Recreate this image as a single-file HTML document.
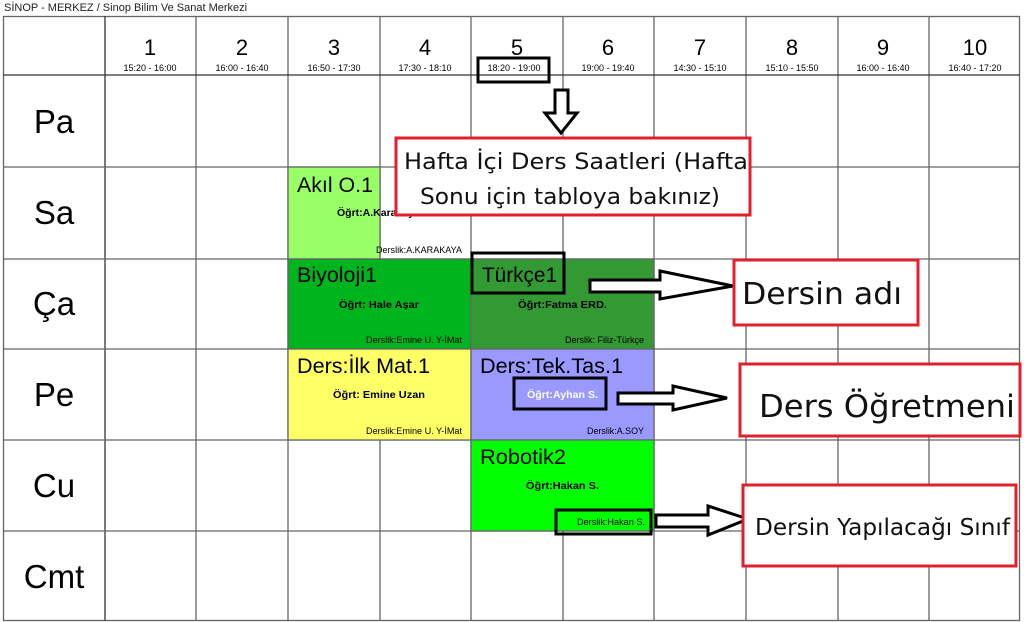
<!DOCTYPE html>
<html><head><meta charset="utf-8"><style>
html,body{margin:0;padding:0;background:#fff;}
svg{display:block;font-family:"Liberation Sans",Arial,sans-serif;}
.c{font-family:"DejaVu Sans","Liberation Sans",sans-serif;}
</style></head><body>
<svg width="1024" height="622" viewBox="0 0 1024 622" xmlns="http://www.w3.org/2000/svg">
<rect width="1024" height="622" fill="#fff"/>
<text x="4" y="11" font-size="11" fill="#222">SİNOP - MERKEZ / Sinop Bilim Ve Sanat Merkezi</text>
<!-- grid -->
<g stroke="#666" stroke-width="1.3" fill="none">
<rect x="3.5" y="16.5" width="1016" height="604"/>
<line x1="105" y1="16" x2="105" y2="621" stroke="#333"/>
<line x1="196" y1="16" x2="196" y2="621"/>
<line x1="288" y1="16" x2="288" y2="621"/>
<line x1="380" y1="16" x2="380" y2="621"/>
<line x1="471" y1="16" x2="471" y2="621"/>
<line x1="563" y1="16" x2="563" y2="259"/>
<line x1="563" y1="531" x2="563" y2="621"/>
<line x1="654" y1="16" x2="654" y2="621"/>
<line x1="746" y1="16" x2="746" y2="621"/>
<line x1="838" y1="16" x2="838" y2="621"/>
<line x1="929" y1="16" x2="929" y2="621"/>
<line x1="3" y1="75" x2="1020" y2="75" stroke="#333"/>
<line x1="3" y1="167" x2="1020" y2="167"/>
<line x1="3" y1="259" x2="1020" y2="259"/>
<line x1="3" y1="349" x2="1020" y2="349"/>
<line x1="3" y1="440" x2="1020" y2="440"/>
<line x1="3" y1="531" x2="1020" y2="531"/>
</g>
<!-- colored cells -->
<g stroke="#666" stroke-width="1.3">
<rect x="288" y="167" width="92" height="92" fill="#99ff66"/>
<rect x="288" y="259" width="183" height="90" fill="#00b41e"/>
<rect x="471" y="259" width="183" height="90" fill="#339933"/>
<rect x="288" y="349" width="183" height="91" fill="#ffff66"/>
<rect x="471" y="349" width="183" height="91" fill="#9999ff"/>
<rect x="471" y="440" width="183" height="91" fill="#00ff00"/>
</g>
<!-- header -->
<g font-size="22" text-anchor="middle" fill="#000">
<text x="150" y="55">1</text><text x="242" y="55">2</text><text x="334" y="55">3</text><text x="425" y="55">4</text><text x="517" y="55">5</text><text x="608" y="55">6</text><text x="700" y="55">7</text><text x="792" y="55">8</text><text x="883" y="55">9</text><text x="975" y="55">10</text>
</g>
<g font-size="9" text-anchor="middle" fill="#000">
<text x="150" y="71">15:20 - 16:00</text><text x="242" y="71">16:00 - 16:40</text><text x="334" y="71">16:50 - 17:30</text><text x="425" y="71">17:30 - 18:10</text><text x="514" y="71">18:20 - 19:00</text><text x="608" y="71">19:00 - 19:40</text><text x="700" y="71">14:30 - 15:10</text><text x="792" y="71">15:10 - 15:50</text><text x="883" y="71">16:00 - 16:40</text><text x="975" y="71">16:40 - 17:20</text>
</g>
<g font-size="33" text-anchor="middle" fill="#000">
<text x="54" y="133">Pa</text><text x="54" y="224">Sa</text><text x="54" y="315">Ça</text><text x="54" y="406">Pe</text><text x="54" y="497">Cu</text><text x="54" y="588">Cmt</text>
</g>
<!-- cell text -->
<g font-size="21" fill="#000" lengthAdjust="spacingAndGlyphs">
<text x="297" y="192" textLength="76" lengthAdjust="spacingAndGlyphs">Akıl O.1</text>
<text x="297" y="282" textLength="80" lengthAdjust="spacingAndGlyphs">Biyoloji1</text>
<text x="482" y="282" textLength="75" lengthAdjust="spacingAndGlyphs">Türkçe1</text>
<text x="297" y="373" textLength="133" lengthAdjust="spacingAndGlyphs">Ders:İlk Mat.1</text>
<text x="480" y="373" textLength="143" lengthAdjust="spacingAndGlyphs">Ders:Tek.Tas.1</text>
<text x="480" y="464" textLength="86" lengthAdjust="spacingAndGlyphs">Robotik2</text>
</g>
<g font-size="10.5" font-weight="bold" fill="#000">
<text x="337" y="216">Öğrt:A.Karakaya</text>
<text x="339" y="308" textLength="80" lengthAdjust="spacingAndGlyphs">Öğrt: Hale Aşar</text>
<text x="518" y="308" textLength="89" lengthAdjust="spacingAndGlyphs">Öğrt:Fatma ERD.</text>
<text x="333" y="398" textLength="92" lengthAdjust="spacingAndGlyphs">Öğrt: Emine Uzan</text>
<text x="527" y="398" textLength="71" lengthAdjust="spacingAndGlyphs" fill="#fff">Öğrt:Ayhan S.</text>
<text x="526" y="489" textLength="73" lengthAdjust="spacingAndGlyphs">Öğrt:Hakan S.</text>
</g>
<g font-size="9" fill="#000">
<text x="376" y="253" textLength="86" lengthAdjust="spacingAndGlyphs">Derslik:A.KARAKAYA</text>
<text x="366" y="343" textLength="96" lengthAdjust="spacingAndGlyphs">Derslik:Emine U. Y-İMat</text>
<text x="565" y="343" textLength="79" lengthAdjust="spacingAndGlyphs">Derslik: Filiz-Türkçe</text>
<text x="366" y="434" textLength="96" lengthAdjust="spacingAndGlyphs">Derslik:Emine U. Y-İMat</text>
<text x="587" y="434" textLength="57" lengthAdjust="spacingAndGlyphs">Derslik:A.SOY</text>
<text x="577" y="525" textLength="68" lengthAdjust="spacingAndGlyphs">Derslik:Hakan S.</text>
</g>
<!-- black highlight boxes -->
<g stroke="#000" stroke-width="3" fill="none">
<rect x="478" y="58" width="71" height="24"/>
<rect x="472" y="253" width="92" height="40"/>
<rect x="514" y="378" width="92" height="31"/>
<rect x="556" y="510" width="95" height="24"/>
</g>
<!-- arrows -->
<g stroke="#000" stroke-width="3" fill="#fff" stroke-linejoin="miter">
<polygon points="555,90 568,90 568,113 577,113 561,133 545,113 555,113"/>
<polygon points="590,280 660,280 660,271 733,286 660,299 660,292 590,292"/>
<polygon points="618,393 673,393 673,386 727,398 673,410 673,404 618,404"/>
<polygon points="656,515 708,515 708,506 748,519 708,535 708,527 656,527"/>
</g>
<!-- red boxes -->
<g stroke="#e0202a" stroke-width="3" fill="#fff">
<rect x="396" y="138" width="354" height="77"/>
<rect x="734" y="260" width="184" height="65"/>
<rect x="740" y="364" width="280" height="72"/>
<rect x="743" y="485" width="273" height="81"/>
</g>
<g class="c" fill="#111">
<text x="404" y="169" font-size="22" textLength="344" lengthAdjust="spacingAndGlyphs">Hafta İçi Ders Saatleri (Hafta</text>
<text x="420" y="204" font-size="22" textLength="300" lengthAdjust="spacingAndGlyphs">Sonu için tabloya bakınız)</text>
<text x="742" y="304" font-size="30" textLength="160" lengthAdjust="spacingAndGlyphs">Dersin adı</text>
<text x="759" y="417" font-size="31" textLength="256" lengthAdjust="spacingAndGlyphs">Ders Öğretmeni</text>
<text x="755" y="535" font-size="23" textLength="255" lengthAdjust="spacingAndGlyphs">Dersin Yapılacağı Sınıf</text>
</g>
</svg>
</body></html>
